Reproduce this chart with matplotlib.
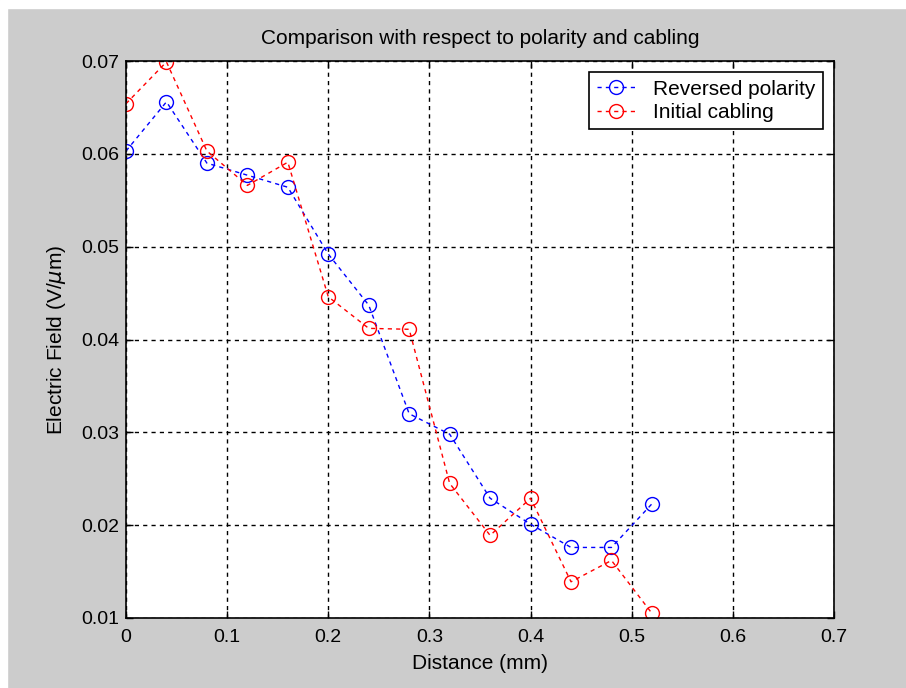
import matplotlib.pyplot as plt
from matplotlib.patches import Rectangle
import numpy as np

plt.rcParams['font.family'] = ['Liberation Sans', 'DejaVu Sans']

distance = [0.0, 0.04, 0.08, 0.12, 0.16, 0.20, 0.24, 0.28, 0.32, 0.36, 0.40, 0.44, 0.48, 0.52]
reversed_polarity = [0.0603, 0.0656, 0.0590, 0.0577, 0.0564, 0.0492, 0.0437, 0.0320,
                     0.0298, 0.0229, 0.0201, 0.0176, 0.0176, 0.0223]
initial_cabling = [0.0654, 0.0699, 0.0603, 0.0566, 0.0591, 0.0446, 0.0412, 0.0411,
                   0.0245, 0.0189, 0.0229, 0.0139, 0.0162, 0.0105]

x_ticks = [0, 0.1, 0.2, 0.3, 0.4, 0.5, 0.6, 0.7]
x_ticklabels = ['0', '0.1', '0.2', '0.3', '0.4', '0.5', '0.6', '0.7']
y_ticks = [0.01, 0.02, 0.03, 0.04, 0.05, 0.06, 0.07]
y_ticklabels = ['0.01', '0.02', '0.03', '0.04', '0.05', '0.06', '0.07']

fig = plt.figure(figsize=(9.06, 6.88), dpi=100, facecolor='#cccccc')
# white border strips at top and left
fig.add_artist(Rectangle((0, 1 - 8 / 688), 1, 8 / 688, transform=fig.transFigure,
                         color='white', zorder=0))
fig.add_artist(Rectangle((0, 0), 7 / 906, 1, transform=fig.transFigure,
                         color='white', zorder=0))

ax = fig.add_axes([126 / 906, 1 - 618 / 688, 708 / 906, 557 / 688])

ax.plot(distance, reversed_polarity, '--o', color='blue', mfc='none', ms=10,
        lw=1, mew=1, label='Reversed polarity', dashes=(3, 3))
ax.plot(distance, initial_cabling, '--o', color='red', mfc='none', ms=10,
        lw=1, mew=1, label='Initial cabling', dashes=(3, 3))

ax.set_xlim(0, 0.7)
ax.set_ylim(0.01, 0.07)
ax.set_xticks(x_ticks)
ax.set_xticklabels(x_ticklabels)
ax.set_yticks(y_ticks)
ax.set_yticklabels(y_ticklabels)
ax.tick_params(direction='in', top=True, right=True, labelsize=14, length=5, width=1)
ax.tick_params(axis='x', pad=8)
ax.tick_params(axis='y', pad=5)
ax.grid(True, color='black', linestyle=(0, (3, 3)), linewidth=1)
for s in ax.spines.values():
    s.set_linewidth(1.2)

ax.set_title('Comparison with respect to polarity and cabling', fontsize=15, pad=12)
ax.set_xlabel('Distance (mm)', fontsize=15, labelpad=6)
ax.set_ylabel('Electric Field (V/$\\mu$m)', fontsize=15, labelpad=9)

leg = ax.legend(loc='upper right', fontsize=15, fancybox=False, framealpha=1,
                edgecolor='black', borderaxespad=0.55, handlelength=1.9,
                handletextpad=0.8, labelspacing=0.2, borderpad=0.35)
leg.get_frame().set_linewidth(1.2)

fig.savefig('out.png', dpi=100, facecolor=fig.get_facecolor())
